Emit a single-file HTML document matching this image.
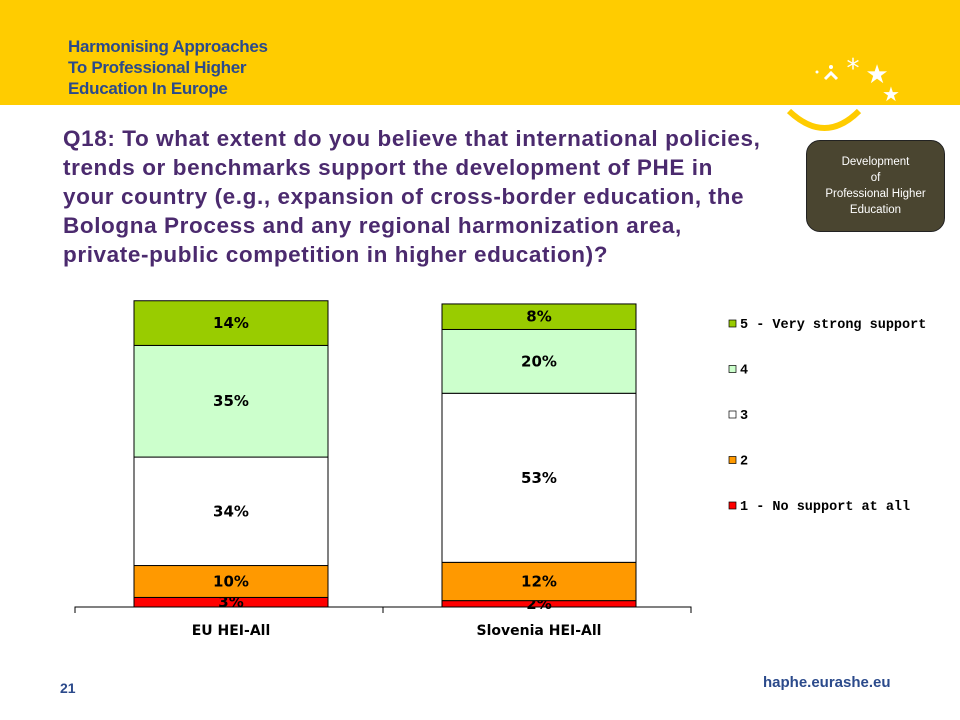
<!DOCTYPE html>
<html><head><meta charset="utf-8"><style>
body{margin:0;width:960px;height:720px;position:relative;background:#fff;font-family:"Liberation Sans",sans-serif;overflow:hidden}
.hdr{position:absolute;left:0;top:0;width:960px;height:105px;background:#FFCC00}
.logo{position:absolute;left:68px;top:36px;color:#2B4A8B;font-weight:bold;font-size:17px;line-height:21px;letter-spacing:-0.3px}
.title{position:absolute;left:63px;top:124px;white-space:nowrap;color:#4B2A6E;font-weight:bold;font-size:22.5px;line-height:29px;letter-spacing:0.6px}
.box{position:absolute;left:806px;top:140px;width:139px;height:92px;background:#4A4530;border:1px solid #222;border-radius:14px;color:#fff;font-size:11.5px;line-height:16px;text-align:center;box-sizing:border-box;padding-top:13px}
.foot{position:absolute;color:#2B4A8B;font-weight:bold;font-size:14px}
</style></head><body>
<div class="hdr"></div>
<div class="logo">Harmonising Approaches<br>To Professional Higher<br>Education In Europe</div>
<svg style="position:absolute;left:780px;top:45px" width="140" height="100">
<circle cx="37" cy="27" r="1.5" fill="#fff"/>
<path d="M45 34 L51 28 L57 34" stroke="#fff" stroke-width="3" fill="none"/>
<circle cx="51" cy="22" r="2" fill="#fff"/>
<text x="73" y="32" font-size="26" fill="#fff" text-anchor="middle" font-family="DejaVu Sans">*</text>
<text x="97" y="38" font-size="26" fill="#fff" text-anchor="middle" font-family="DejaVu Sans">★</text>
<text x="111" y="56" font-size="20" fill="#fff" text-anchor="middle" font-family="DejaVu Sans">★</text>
<path d="M9 66 Q45 100 79 66" stroke="#FFCC00" stroke-width="6" fill="none"/>
</svg>
<div class="title">Q18: To what extent do you believe that international policies,<br>trends or benchmarks support the development of PHE in<br>your country (e.g., expansion of cross-border education, the<br>Bologna Process and any regional harmonization area,<br>private-public competition in higher education)?</div>
<div class="box">Development<br>of<br>Professional Higher<br>Education</div>
<svg id="chart" style="position:absolute;left:0;top:0" width="960" height="720"></svg>
<div class="foot" style="left:60px;top:680px">21</div>
<div class="foot" style="left:763px;top:674px;font-size:15px">haphe.eurashe.eu</div>
<script>
const categories=["EU HEI-All","Slovenia HEI-All"];
const seriesNames=["1 - No support at all","2","3","4","5 - Very strong support"];
const s1=[3,2];
const s2=[10,12];
const s3=[34,53];
const s4=[35,20];
const s5=[14,8];
const colors=["#FF0000","#FF9900","#FFFFFF","#CCFFCC","#99CC00"];
const series=[s1,s2,s3,s4,s5];
const svg=document.getElementById('chart');
const NS='http://www.w3.org/2000/svg';
const base=607, pxPer=3.19;
const y=v=>base-v*pxPer;
const x0=75,x1=691,bw=194;
const xc=i=>x0+(x1-x0)/categories.length*(i+0.5)+2;
function mk(t,a){const e=document.createElementNS(NS,t);for(const k in a)e.setAttribute(k,a[k]);svg.appendChild(e);return e;}
categories.forEach((c,i)=>{
  let cum=0;
  series.forEach((s,j)=>{
    const v=s[i];
    const r=mk('rect',{x:xc(i)-bw/2,y:y(cum+v),width:bw,height:v*pxPer,fill:colors[j],stroke:'#000','stroke-width':1});
    
    
    const t=mk('text',{x:xc(i),y:y(cum+v/2)+5,'text-anchor':'middle','font-size':15,'font-weight':'bold','font-family':'DejaVu Sans, sans-serif',fill:'#000'});
    t.textContent=v+'%';
    
    
    cum+=v;
  });
  const l=mk('text',{x:xc(i),y:635,'text-anchor':'middle','font-size':14,'font-weight':'bold','font-family':'DejaVu Sans, sans-serif'});
  l.textContent=c;
  
  
});
const ax=mk('path',{d:`M${x0} 613V${base}H${x1}V613M${(x0+x1)/2} ${base}V613`,stroke:'#000',fill:'none'});


for(let j=4;j>=0;j--){
  const ly=324+(4-j)*45.5;
  const m=mk('rect',{x:729,y:ly-4,width:7,height:7,fill:colors[j],stroke:'#000','stroke-width':0.7});
  
  
  const t=mk('text',{x:740,y:ly+4,'font-size':13.5,'font-weight':'bold','font-family':'Liberation Mono, monospace'});
  t.textContent=seriesNames[j];
  
  
}
</script>
</body></html>
